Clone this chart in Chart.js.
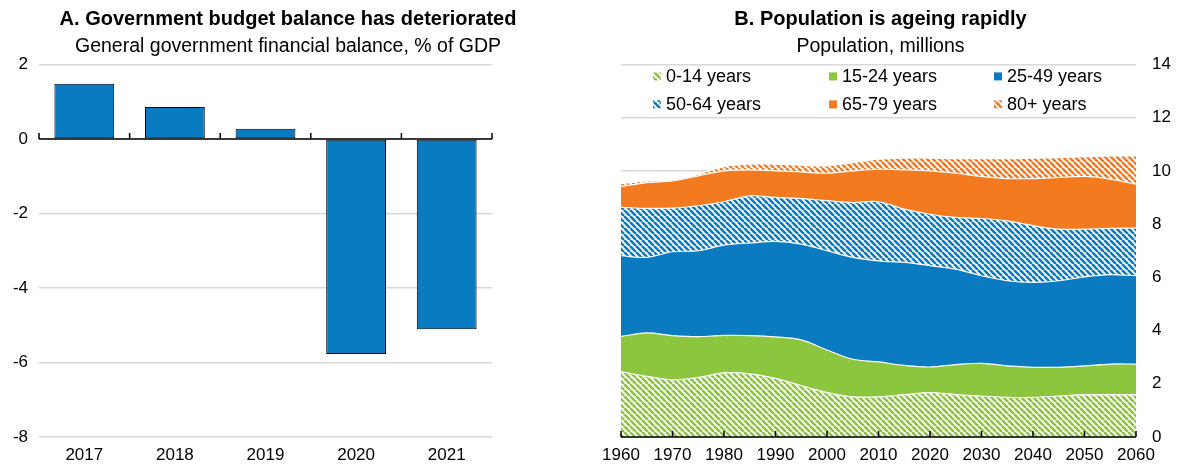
<!DOCTYPE html>
<html>
<head>
<meta charset="utf-8">
<script src="https://cdn.jsdelivr.net/npm/chart.js@4.4.1/dist/chart.umd.min.js"></script>
<style>
  body { margin: 0; background: #fff; }
  #wrap { position: relative; width: 1185px; height: 467px; }
  .panel { position: absolute; top: 0; height: 467px; }
  #panelA { left: 0; width: 576px; }
  #panelB { left: 576px; width: 609px; }
</style>
</head>
<body>
<div id="wrap">
  <div class="panel" id="panelA"><canvas id="grafica-balance"></canvas></div>
  <div class="panel" id="panelB"><canvas id="grafica-poblacion"></canvas></div>
</div>
<script>
// A. Saldo presupuestario, % del PIB
const anios = ['2017', '2018', '2019', '2020', '2021'];
const saldo = [1.48, 0.86, 0.27, -5.77, -5.11];

// B. Población por edades, millones (años cada 5)
const aniosPob = [1960, 1965, 1970, 1975, 1980, 1985, 1990, 1995, 2000, 2005, 2010,
  2015, 2020, 2025, 2030, 2035, 2040, 2045, 2050, 2055, 2060];
const pob0a14 = [2.46, 2.28, 2.15, 2.24, 2.41, 2.37, 2.20, 1.93, 1.67, 1.51, 1.51,
  1.59, 1.67, 1.59, 1.54, 1.49, 1.49, 1.54, 1.59, 1.59, 1.59];
const pob15a24 = [1.32, 1.63, 1.66, 1.53, 1.41, 1.44, 1.56, 1.72, 1.60, 1.41, 1.31,
  1.10, 0.96, 1.13, 1.23, 1.18, 1.13, 1.08, 1.08, 1.15, 1.15];
const pob25a49 = [3.03, 2.84, 3.15, 3.23, 3.39, 3.48, 3.59, 3.60, 3.73, 3.83, 3.80,
  3.87, 3.81, 3.59, 3.29, 3.20, 3.19, 3.25, 3.35, 3.36, 3.32];
const pob50a64 = [1.82, 1.84, 1.64, 1.69, 1.63, 1.77, 1.65, 1.71, 1.88, 2.06, 2.22,
  2.00, 1.93, 1.94, 2.15, 2.25, 2.13, 1.94, 1.79, 1.74, 1.79];
const pob65a79 = [0.78, 0.97, 1.02, 1.12, 1.16, 0.98, 1.00, 1.00, 1.03, 1.19, 1.22,
  1.48, 1.63, 1.66, 1.58, 1.59, 1.77, 1.94, 1.98, 1.85, 1.65];
const pob80mas = [0.11, 0.06, 0.04, 0.07, 0.16, 0.21, 0.25, 0.25, 0.28, 0.31, 0.38,
  0.44, 0.48, 0.55, 0.67, 0.75, 0.77, 0.75, 0.74, 0.87, 1.06];

// 🎨 Colores
const azul = '#0a7bc1';
const verde = '#8cc63f';
const naranja = '#f47a20';
const gris = '#d9d9d9';
const fuente = "'Liberation Sans', Arial, sans-serif";

Chart.defaults.font.family = fuente;
Chart.defaults.color = '#000';

// rayas diagonales sobre blanco
function rayado(color) {
  const c = document.createElement('canvas');
  c.width = 6; c.height = 6;
  const g = c.getContext('2d');
  g.fillStyle = '#fff';
  g.fillRect(0, 0, 6, 6);
  g.strokeStyle = color;
  g.lineWidth = 2.6;
  g.beginPath();
  for (const o of [-6, 0, 6]) { g.moveTo(o, 0); g.lineTo(o + 6, 6); }
  g.stroke();
  return g.createPattern(c, 'repeat');
}

// 🔧 Línea del cero con marcas hacia arriba
const marcasCero = {
  id: 'marcasCero',
  afterDatasetsDraw(chart) {
    const { ctx } = chart;
    const x = chart.scales.x, y = chart.scales.y;
    const y0 = y.getPixelForValue(0);
    const n = chart.data.labels.length;
    ctx.save();
    ctx.strokeStyle = '#000';
    ctx.lineWidth = 1.5;
    ctx.beginPath();
    ctx.moveTo(x.left, y0);
    ctx.lineTo(x.right, y0);
    for (let i = 0; i <= n; i++) {
      const px = x.left + i * (x.width / n);
      ctx.moveTo(px, y0);
      ctx.lineTo(px, y0 - 6);
    }
    ctx.stroke();
    ctx.restore();
  }
};

const ejeX = {
  id: 'ejeX',
  afterDatasetsDraw(chart) {
    const { ctx } = chart;
    const x = chart.scales.x, y = chart.scales.y;
    const y0 = y.getPixelForValue(0);
    ctx.save();
    ctx.strokeStyle = '#000';
    ctx.lineWidth = 1.5;
    ctx.beginPath();
    ctx.moveTo(x.left, y0);
    ctx.lineTo(x.right, y0);
    x.ticks.forEach(t => {
      const px = x.getPixelForValue(t.value);
      ctx.moveTo(px, y0);
      ctx.lineTo(px, y0 - 6);
    });
    ctx.stroke();
    ctx.restore();
  }
};

// Leyenda dentro del área del gráfico
const leyendaInterna = {
  id: 'leyendaInterna',
  afterDatasetsDraw(chart) {
    const { ctx, chartArea } = chart;
    const columnas = [36, 212, 377];
    const filas = [12, 40];
    ctx.save();
    ctx.font = '18px ' + fuente;
    ctx.textBaseline = 'middle';
    chart.data.datasets.forEach((ds, i) => {
      const px = chartArea.left + columnas[i % 3];
      const py = chartArea.top + filas[Math.floor(i / 3)];
      ctx.fillStyle = ds.backgroundColor;
      ctx.fillRect(px - 4, py - 4, 8, 8);
      ctx.fillStyle = '#000';
      ctx.fillText(ds.label, px + 9, py + 1);
    });
    ctx.restore();
  }
};

const titulo = (texto) => ({
  display: true, text: texto, color: '#000',
  font: { size: 20, weight: 'bold' }, padding: { top: 7, bottom: 4 }
});
const subtitulo = (texto) => ({
  display: true, text: texto, color: '#000',
  font: { size: 19.5, weight: 'normal' }, padding: { top: 0, bottom: 6 }
});

// eje vacío que sólo reserva espacio
const margen = (lado, ancho) => ({
  type: 'linear', position: lado,
  grid: { display: false }, border: { display: false }, ticks: { display: false },
  afterFit: s => { s.width = ancho; }
});

new Chart(document.getElementById('grafica-balance'), {
  type: 'bar',
  data: {
    labels: anios,
    datasets: [{
      data: saldo,
      backgroundColor: azul,
      borderColor: '#000',
      borderWidth: 1,
      borderSkipped: false,
      categoryPercentage: 1,
      barPercentage: 0.66
    }]
  },
  options: {
    responsive: true,
    maintainAspectRatio: false,
    animation: false,
    layout: { padding: 0 },
    plugins: {
      legend: { display: false },
      tooltip: { enabled: false },
      title: titulo('A. Government budget balance has deteriorated'),
      subtitle: subtitulo('General government financial balance, % of GDP')
    },
    scales: {
      x: {
        grid: { display: false, drawTicks: false },
        border: { display: false },
        ticks: { font: { size: 17 }, padding: 8 },
        afterFit: s => { s.height = 30; }
      },
      y: {
        min: -8, max: 2,
        border: { display: false },
        grid: { color: gris, lineWidth: 1.5, drawTicks: false },
        ticks: { stepSize: 2, font: { size: 17 }, padding: 11 },
        afterFit: s => { s.width = 39; }
      },
      margen: margen('right', 84)
    }
  },
  plugins: [marcasCero]
});

const serie = (vals) => vals.map((v, i) => ({ x: aniosPob[i], y: v }));
const area = (label, vals, fondo, relleno) => ({
  label, data: serie(vals), backgroundColor: fondo, fill: relleno,
  borderColor: '#fff', borderWidth: 1.2, pointRadius: 0, tension: 0.35
});

new Chart(document.getElementById('grafica-poblacion'), {
  type: 'line',
  data: {
    datasets: [
      area('0-14 years', pob0a14, rayado(verde), 'origin'),
      area('15-24 years', pob15a24, verde, '-1'),
      area('25-49 years', pob25a49, azul, '-1'),
      area('50-64 years', pob50a64, rayado(azul), '-1'),
      area('65-79 years', pob65a79, naranja, '-1'),
      area('80+ years', pob80mas, rayado(naranja), '-1')
    ]
  },
  options: {
    responsive: true,
    maintainAspectRatio: false,
    animation: false,
    layout: { padding: 0 },
    plugins: {
      legend: { display: false },
      tooltip: { enabled: false },
      title: titulo('B. Population is ageing rapidly'),
      subtitle: subtitulo('Population, millions')
    },
    scales: {
      x: {
        type: 'linear', min: 1960, max: 2060,
        grid: { display: false, drawTicks: false },
        border: { display: false },
        ticks: { stepSize: 10, font: { size: 17 }, padding: 8, callback: v => String(v) },
        afterFit: s => { s.height = 30; }
      },
      y: {
        position: 'right', stacked: true, min: 0, max: 14,
        border: { display: false },
        grid: { color: gris, lineWidth: 1.5, drawTicks: false },
        ticks: { stepSize: 2, font: { size: 17 }, padding: 16 },
        afterFit: s => { s.width = 49; }
      },
      margen: margen('left', 45)
    }
  },
  plugins: [ejeX, leyendaInterna]
});
</script>
</body>
</html>
